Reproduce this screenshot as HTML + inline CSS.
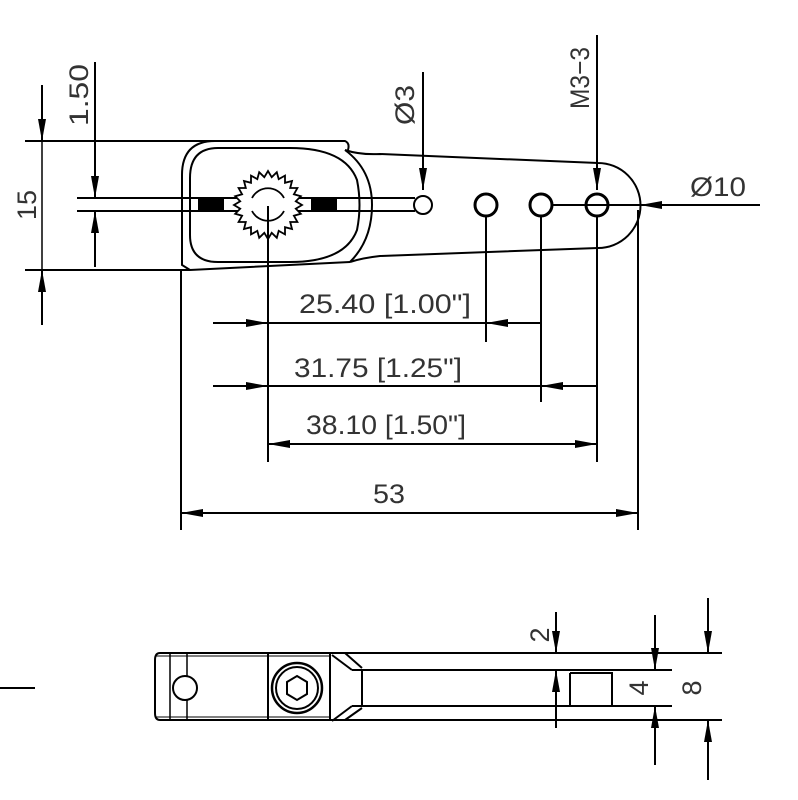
<!DOCTYPE html>
<html><head><meta charset="utf-8"><style>
html,body{margin:0;padding:0;background:#fff}
svg{display:block}
text{font-family:"Liberation Sans",sans-serif;fill:#333}
</style></head><body>
<svg id="s" width="798" height="800" viewBox="0 0 798 800" xmlns="http://www.w3.org/2000/svg">
<defs>
<marker id="a" viewBox="0 0 22 8" refX="22" refY="4" markerWidth="22" markerHeight="8" markerUnits="userSpaceOnUse" orient="auto"><path d="M0,0 L22,4 L0,8 z" fill="#000"/></marker>
</defs>
<g stroke="#000" stroke-width="2" fill="none">
<line x1="25" y1="141" x2="345" y2="141"/>
<line x1="25" y1="270" x2="190" y2="270"/>
<line x1="77" y1="198" x2="200" y2="198"/>
<line x1="77" y1="211" x2="200" y2="211"/>
<line x1="42" y1="85" x2="42" y2="141" marker-end="url(#a)"/>
<line x1="42" y1="325" x2="42" y2="270" marker-end="url(#a)"/>
<line x1="42" y1="141" x2="42" y2="270" stroke-width="1.5"/>
<line x1="95" y1="62" x2="95" y2="198" marker-end="url(#a)"/>
<line x1="95" y1="267" x2="95" y2="211" marker-end="url(#a)"/>
<path d="M190,141 L345,141 Q350,143 348,150"/>
<path d="M215,141 Q182,141 182,175 L182,265 L190,270 L350,262"/>
<path d="M218,148 Q190,148 190,178 L190,235 Q190,262 218,262 L290,262 Q345,262 357,230 Q362,205 357,180 Q345,148 290,148 Z"/>
<path d="M345,150 Q372,170 372,205 Q372,240 350,262"/>
<path d="M345,150 Q360,155 380,154 L598,163 A42,42 0 0 1 598,248 L380,256 Q362,258 350,262"/>
<path d="M200,198 L415,198 M200,211 L415,211"/>
<circle cx="423" cy="205" r="9" fill="#fff"/>
<circle cx="486" cy="205" r="11" stroke-width="3"/>
<circle cx="541" cy="205" r="11" stroke-width="3"/>
<circle cx="597" cy="205" r="11" stroke-width="3"/>
<line x1="552" y1="205" x2="640" y2="205"/>
<path id="gear" stroke-width="1.8" fill="#fff"/>
<path d="M252,198 A18,18 0 0 1 284,198 M252,211 A18,18 0 0 0 284,211" stroke-width="1.8"/>
<line x1="268" y1="206" x2="268" y2="462"/>
<line x1="423" y1="72" x2="423" y2="190" marker-end="url(#a)"/>
<line x1="597" y1="35" x2="597" y2="190" marker-end="url(#a)"/>
<line x1="760" y1="205" x2="640" y2="205" marker-end="url(#a)"/>
<line x1="181" y1="270" x2="181" y2="530"/>
<line x1="486" y1="216" x2="486" y2="342"/>
<line x1="541" y1="216" x2="541" y2="402"/>
<line x1="597" y1="216" x2="597" y2="462"/>
<line x1="638" y1="210" x2="638" y2="530"/>
<line x1="213" y1="323" x2="268" y2="323" marker-end="url(#a)"/>
<line x1="541" y1="323" x2="486" y2="323" marker-end="url(#a)"/>
<line x1="268" y1="323" x2="486" y2="323"/>
<line x1="213" y1="386" x2="268" y2="386" marker-end="url(#a)"/>
<line x1="597" y1="386" x2="541" y2="386" marker-end="url(#a)"/>
<line x1="268" y1="386" x2="541" y2="386"/>
<line x1="400" y1="444" x2="268" y2="444" marker-end="url(#a)"/>
<line x1="400" y1="444" x2="597" y2="444" marker-end="url(#a)"/>
<line x1="400" y1="513" x2="181" y2="513" marker-end="url(#a)"/>
<line x1="400" y1="513" x2="638" y2="513" marker-end="url(#a)"/>

<line x1="0" y1="688" x2="35" y2="688"/>
<path d="M160,653 L722,653 M160,720 L722,720 M160,653 Q155,653 155,660 L155,713 Q155,720 160,720"/>
<line x1="170" y1="653" x2="170" y2="720" stroke-width="1.5"/>
<line x1="187" y1="653" x2="187" y2="720" stroke-width="1.5"/>
<line x1="155" y1="656" x2="330" y2="656" stroke-width="1"/>
<line x1="155" y1="717" x2="330" y2="717" stroke-width="1"/>
<circle cx="185" cy="688" r="12" fill="#fff"/>
<line x1="268" y1="653" x2="268" y2="720"/>
<line x1="330" y1="653" x2="330" y2="720"/>
<circle cx="297" cy="688" r="25" stroke-width="2.5"/>
<circle cx="297" cy="688" r="21"/>
<polygon points="297,676 307,682 307,694 297,700 287,694 287,682"/>
<path d="M332,655 L352,670 M345,653 L362,668 M332,721 L352,706 M345,720 L362,708"/>
<path d="M352,670 L672,670 M352,706 L672,706 M362,670 L362,706"/>
<path d="M570,673 L612,673 L612,706 M570,673 L570,706"/>
<line x1="556" y1="612" x2="556" y2="653" marker-end="url(#a)"/>
<line x1="556" y1="728" x2="556" y2="670" marker-end="url(#a)"/>
<line x1="655" y1="615" x2="655" y2="670" marker-end="url(#a)"/>
<line x1="655" y1="765" x2="655" y2="706" marker-end="url(#a)"/>
<line x1="708" y1="598" x2="708" y2="653" marker-end="url(#a)"/>
<line x1="708" y1="780" x2="708" y2="720" marker-end="url(#a)"/>
</g>
<rect x="198" y="199" width="26" height="12" fill="#000"/>
<rect x="311" y="199" width="26" height="12" fill="#000"/>

<g font-size="27">
<text transform="translate(36,205) rotate(-90)" text-anchor="middle" textLength="30" lengthAdjust="spacingAndGlyphs">15</text>
<text transform="translate(88,95) rotate(-90)" text-anchor="middle" textLength="62" lengthAdjust="spacingAndGlyphs">1.50</text>
<text transform="translate(414,105) rotate(-90)" text-anchor="middle" textLength="40" lengthAdjust="spacingAndGlyphs">Ø3</text>
<text transform="translate(589,78) rotate(-90)" text-anchor="middle" textLength="62" lengthAdjust="spacingAndGlyphs">M3−3</text>
<text x="690" y="196" textLength="56" lengthAdjust="spacingAndGlyphs">Ø10</text>
<text x="299" y="313" textLength="172" lengthAdjust="spacingAndGlyphs">25.40 [1.00"]</text>
<text x="294" y="377" textLength="168" lengthAdjust="spacingAndGlyphs">31.75 [1.25"]</text>
<text x="306" y="434" textLength="160" lengthAdjust="spacingAndGlyphs">38.10 [1.50"]</text>
<text x="373" y="503" textLength="32" lengthAdjust="spacingAndGlyphs">53</text>
<text transform="translate(549,635) rotate(-90)" text-anchor="middle">2</text>
<text transform="translate(648,688) rotate(-90)" text-anchor="middle">4</text>
<text transform="translate(701,688) rotate(-90)" text-anchor="middle">8</text>
</g>
</svg>
<script>
(function(){var cx=268,cy=205,n=24,d="";for(var i=0;i<n*2;i++){var r=i%2?28:34;var a=i*Math.PI/n;d+=(i?"L":"M")+(cx+r*Math.cos(a)).toFixed(1)+","+(cy+r*Math.sin(a)).toFixed(1);}d+="Z";document.getElementById("gear").setAttribute("d",d);})();
</script>
</body></html>
